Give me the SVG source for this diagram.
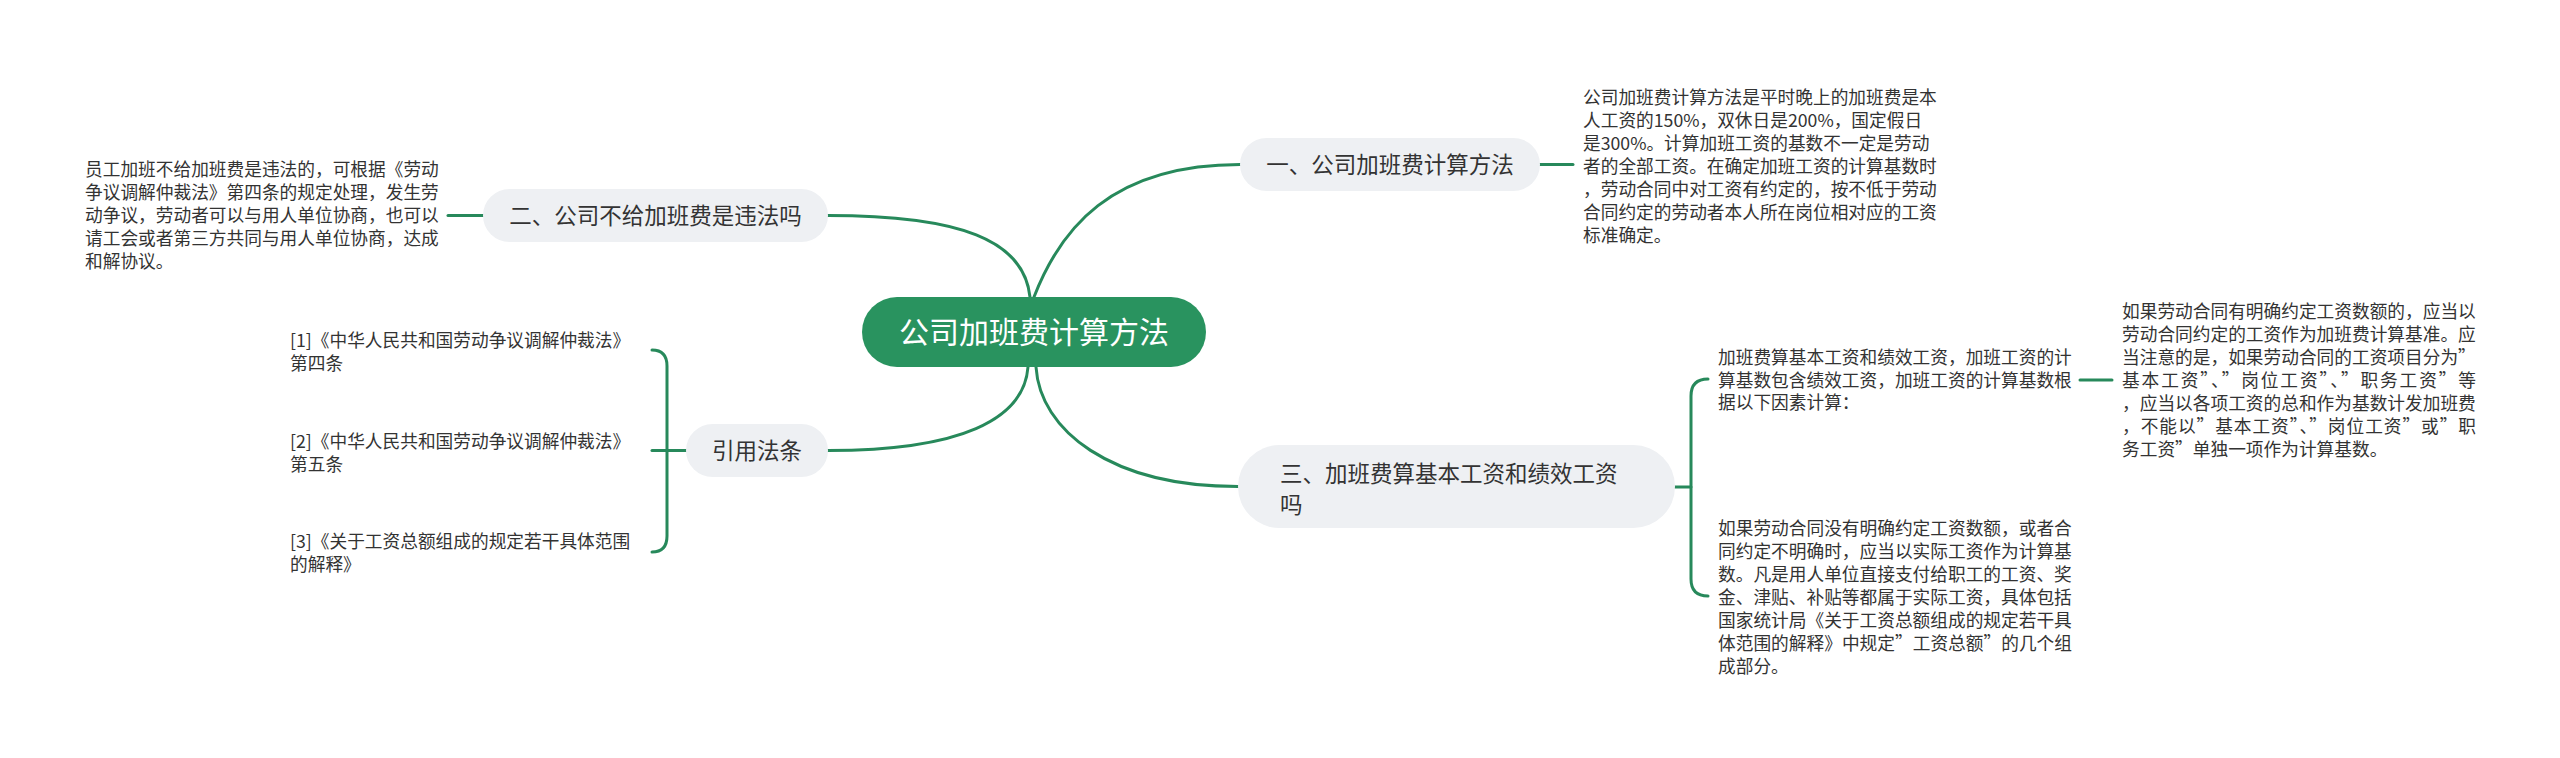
<svg xmlns="http://www.w3.org/2000/svg" width="2560" height="758" viewBox="0 0 2560 758">
<style>
.bg{fill:#ffffff}
.ln{fill:none;stroke:#27895b;stroke-width:3;stroke-linecap:round}
.nd{fill:#eef0f3}
.root{fill:#29935f}
.t{font-family:"Noto Sans CJK SC","Microsoft YaHei",sans-serif;fill:#333333}
.nt{font-size:22.5px}
.bt{font-size:17.7px}
.rt{font-family:"Noto Sans CJK SC",sans-serif;font-size:30px;fill:#ffffff}
</style>
<rect class="bg" x="0" y="0" width="2560" height="758"/>
<g id="connectors">
<path class="ln" d="M1034 297 C1060 230 1110 164.5 1240 164.5"/>
<path class="ln" d="M1030 297 C1024 240 960 215.5 828 215.5"/>
<path class="ln" d="M1028 367 C1024 420 960 450.5 828 450.5"/>
<path class="ln" d="M1036 367 C1040 430 1110 486.5 1238 486.5"/>
<path class="ln" d="M1540 164.5 H1573"/>
<path class="ln" d="M483 215.5 H448"/>
<path class="ln" d="M686 450.5 H652"/>
<path class="ln" d="M652 350 Q667 350 667 366 V536 Q667 552 652 552"/>
<path class="ln" d="M1675 487 H1691"/>
<path class="ln" d="M1708 379 Q1691 379 1691 396 V579 Q1691 596 1708 596"/>
<path class="ln" d="M2080 380 H2112"/>
</g>
<g id="root">
<rect class="root" x="862" y="297" width="344" height="70" rx="35"/>
<text class="rt" x="1034" y="343" text-anchor="middle">公司加班费计算方法</text>
</g>
<g id="node1">
<rect class="nd" x="1240" y="138" width="300" height="53" rx="26.5"/>
<text class="t nt" x="1390" y="173" text-anchor="middle">一、公司加班费计算方法</text>
</g>
<g id="node1-detail">
<text class="t bt" x="1583">
<tspan x="1583" y="103.7">公司加班费计算方法是平时晚上的加班费是本</tspan>
<tspan x="1583" y="126.7">人工资的150%，双休日是200%，国定假日</tspan>
<tspan x="1583" y="149.7">是300%。计算加班工资的基数不一定是劳动</tspan>
<tspan x="1583" y="172.7">者的全部工资。在确定加班工资的计算基数时</tspan>
<tspan x="1583" y="195.7">，劳动合同中对工资有约定的，按不低于劳动</tspan>
<tspan x="1583" y="218.7">合同约定的劳动者本人所在岗位相对应的工资</tspan>
<tspan x="1583" y="241.7">标准确定。</tspan>
</text>
</g>
<g id="node2">
<rect class="nd" x="483" y="189" width="345" height="53" rx="26.5"/>
<text class="t nt" x="655.5" y="224" text-anchor="middle">二、公司不给加班费是违法吗</text>
</g>
<g id="node2-detail">
<text class="t bt" x="85">
<tspan x="85" y="176.2">员工加班不给加班费是违法的，可根据《劳动</tspan>
<tspan x="85" y="199.2">争议调解仲裁法》第四条的规定处理，发生劳</tspan>
<tspan x="85" y="222.2">动争议，劳动者可以与用人单位协商，也可以</tspan>
<tspan x="85" y="245.2">请工会或者第三方共同与用人单位协商，达成</tspan>
<tspan x="85" y="268.2">和解协议。</tspan>
</text>
</g>
<g id="node4">
<rect class="nd" x="686" y="424" width="142" height="53" rx="26.5"/>
<text class="t nt" x="757" y="459" text-anchor="middle">引用法条</text>
</g>
<g id="cite1">
<text class="t bt" x="290">
<tspan x="290" y="346.7">[1]《中华人民共和国劳动争议调解仲裁法》</tspan>
<tspan x="290" y="369.7">第四条</tspan>
</text>
</g>
<g id="cite2">
<text class="t bt" x="290">
<tspan x="290" y="447.7">[2]《中华人民共和国劳动争议调解仲裁法》</tspan>
<tspan x="290" y="470.7">第五条</tspan>
</text>
</g>
<g id="cite3">
<text class="t bt" x="290">
<tspan x="290" y="547.7">[3]《关于工资总额组成的规定若干具体范围</tspan>
<tspan x="290" y="570.7">的解释》</tspan>
</text>
</g>
<g id="node3">
<rect class="nd" x="1238" y="445" width="437" height="83" rx="41.5"/>
<text class="t nt" x="1280">
<tspan x="1280" y="482">三、加班费算基本工资和绩效工资</tspan>
<tspan x="1280" y="513">吗</tspan>
</text>
</g>
<g id="node3a">
<text class="t bt" x="1718">
<tspan x="1718" y="364.2">加班费算基本工资和绩效工资，加班工资的计</tspan>
<tspan x="1718" y="386.7">算基数包含绩效工资，加班工资的计算基数根</tspan>
<tspan x="1718" y="409.2">据以下因素计算：</tspan>
</text>
</g>
<g id="node3a-detail">
<text class="t bt" x="2122">
<tspan x="2122" y="317.7">如果劳动合同有明确约定工资数额的，应当以</tspan>
<tspan x="2122" y="340.7">劳动合同约定的工资作为加班费计算基准。应</tspan>
<tspan x="2122" y="363.7">当注意的是，如果劳动合同的工资项目分为”</tspan>
</text>
<text class="t bt" x="2122" y="386.7" textLength="354" lengthAdjust="spacing">基本工资”、”岗位工资”、”职务工资”等</text>
<text class="t bt" x="2122" y="409.7">，应当以各项工资的总和作为基数计发加班费</text>
<text class="t bt" x="2122" y="432.7" textLength="354" lengthAdjust="spacing">，不能以”基本工资”、”岗位工资”或”职</text>
<text class="t bt" x="2122" y="455.7">务工资”单独一项作为计算基数。</text>
</g>
<g id="node3b">
<text class="t bt" x="1718">
<tspan x="1718" y="534.7">如果劳动合同没有明确约定工资数额，或者合</tspan>
<tspan x="1718" y="557.7">同约定不明确时，应当以实际工资作为计算基</tspan>
<tspan x="1718" y="580.7">数。凡是用人单位直接支付给职工的工资、奖</tspan>
<tspan x="1718" y="603.7">金、津贴、补贴等都属于实际工资，具体包括</tspan>
<tspan x="1718" y="626.7">国家统计局《关于工资总额组成的规定若干具</tspan>
</text>
<text class="t bt" x="1718" y="649.7" textLength="354" lengthAdjust="spacing">体范围的解释》中规定”工资总额”的几个组</text>
<text class="t bt" x="1718" y="672.7">成部分。</text>
</g>
</svg>
